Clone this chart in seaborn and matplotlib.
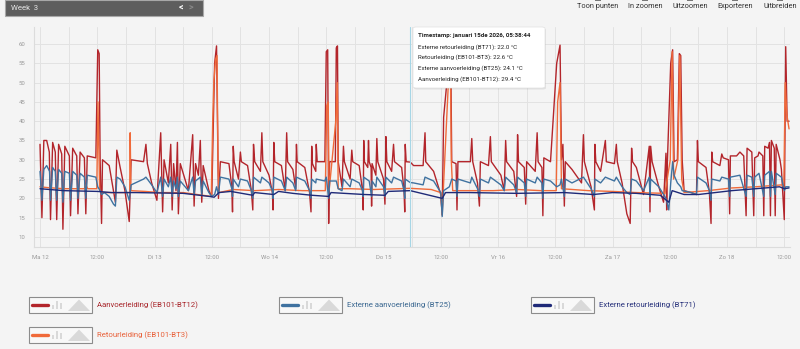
import matplotlib
matplotlib.use("Agg")
import matplotlib.pyplot as plt
import seaborn as sns
import pandas as pd
from matplotlib.patches import Rectangle, FancyBboxPatch, Polygon
from matplotlib.lines import Line2D

# ---------------- data (hours since Ma 12 00:00, °C) ----------------
bt12_t = [0.0, 0.4, 0.8, 1.4, 1.95, 2.2, 2.65, 3.2, 3.5, 3.9, 4.55, 4.8, 5.2, 6.15, 6.4, 6.85, 7.7, 7.95,
          8.4, 9.3, 9.6, 9.9, 11.7, 12.1, 12.4, 12.6, 12.9, 13.1, 14.5, 15.4, 15.8, 16.1, 16.8, 17.8, 18.7,
          19.1, 21.7, 22.2, 22.5, 23.4, 24.5, 25.3, 25.7, 26.0, 26.9, 27.4, 27.7, 28.0, 28.5, 28.8, 29.0,
          29.4, 31.1, 32.0, 32.3, 32.6, 33.2, 33.6, 33.9, 34.2, 35.4, 36.0, 36.6, 37.0, 37.4, 37.8, 39.6,
          40.2, 40.35, 40.5, 40.7, 41.6, 42.0, 42.2, 43.5, 44.3, 44.6, 44.75, 45.0, 46.2, 46.5, 46.7, 48.0,
          48.7, 48.85, 49.0, 49.2, 50.6, 51.4, 51.7, 51.9, 53.0, 53.6, 53.75, 53.9, 55.5, 56.5, 56.8, 56.95,
          57.1, 57.8, 57.9, 58.1, 59.7, 60.0, 60.3, 60.5, 60.7, 61.9, 62.1, 62.35, 62.5, 63.3, 63.6, 63.8,
          65.0, 65.35, 65.55, 66.9, 67.6, 67.75, 67.85, 68.0, 68.7, 68.85, 69.0, 69.4, 69.5, 69.6, 70.4,
          70.6, 70.8, 72.0, 72.3, 72.5, 72.7, 73.7, 74.1, 74.3, 75.8, 76.3, 76.45, 76.55, 76.75, 77.6, 78.3,
          80.3, 80.7, 80.85, 82.5, 83.5, 84.0, 84.3, 84.6, 85.2, 85.8, 86.1, 86.3, 87.2, 87.4, 87.6, 90.2,
          90.5, 90.7, 91.7, 92.1, 92.3, 94.0, 94.4, 94.6, 96.6, 97.3, 97.6, 97.8, 99.3, 99.9, 100.1, 100.3,
          101.5, 101.8, 102.0, 103.8, 104.2, 104.4, 105.2, 105.4, 105.6, 107.0, 108.3, 109.0, 109.3, 109.6,
          109.9, 110.1, 111.5, 113.5, 113.9, 114.1, 115.5, 116.2, 116.3, 116.5, 117.5, 118.5, 118.7, 120.4,
          120.8, 121.0, 122.0, 123.0, 123.7, 124.0, 124.2, 125.0, 126.5, 127.7, 127.85, 128.0, 128.3,
          129.7, 130.7, 131.2, 131.35, 131.5, 132.2, 132.6, 132.9, 133.6, 134.0, 134.3, 134.6, 135.0,
          136.5, 137.6, 137.8, 138.0, 139.6, 140.3, 140.65, 140.8, 141.0, 142.5, 142.9, 143.2, 144.3,
          144.55, 144.7, 146.0, 146.7, 147.5, 148.0, 148.2, 149.2, 149.6, 149.8, 150.5, 150.7, 151.5,
          151.7, 151.9, 152.6, 152.9, 153.1, 153.3, 153.9, 154.1, 154.3, 155.1, 155.4, 156.0, 156.3,
          156.6, 157.0]
bt12_v = [34, 15, 35, 35, 32, 14.5, 34.5, 32, 14.5, 34, 31.5, 12, 33.5, 31, 15.5, 33, 31, 16,
          32, 30.5, 16, 31, 30.5, 58.5, 57.5, 30, 13.5, 30, 28.5, 22, 19, 32.5, 28, 22, 14,
          30, 29.5, 34, 29, 24, 19.5, 37, 16.5, 30, 24, 34, 17, 29, 22, 34.5, 16,
          29, 22, 36.5, 18, 29, 26, 35, 19, 28.5, 22, 20.5, 55, 59.5, 20, 29.5, 29,
          23, 16.5, 33.5, 29.5, 25, 32, 29.5, 28.5, 22, 17, 34, 29.5, 27, 37, 29.5, 26,
          21.5, 17, 34.5, 29.5, 28.5, 22, 37, 29.5, 27.5, 22.5, 34, 29.5, 28, 21.5, 16.5, 33.5,
          29, 27, 34, 29.5, 29.5, 58, 58.5, 13.5, 29.5, 29.5, 59, 59.5, 29.5, 23, 33.5, 29.5,
          25, 32.5, 29.5, 28.5, 22, 17, 35, 29.5, 28, 35, 29.5, 28, 18, 29, 26,
          35.5, 29.5, 25, 18.5, 36, 29.5, 27, 34, 29.5, 28, 22, 16.5, 34, 29.5, 29.4, 28.5,
          28.5, 37, 29.5, 27, 23, 21, 15.7, 41, 49, 57, 56, 29.5, 29, 17, 29.5, 29.5,
          35.5, 29.5, 24, 18, 29.5, 28.5, 36, 29.5, 26, 22, 35, 29.5, 27, 20.5, 36.5, 29.5,
          28, 18.5, 29.5, 27, 37, 29.5, 28, 15.5, 30.5, 29.5, 55, 59.7, 30, 34,
          18, 29.5, 27.5, 24, 36.5, 29.5, 23, 17, 34, 29.5, 27, 35, 29.5, 29,
          34, 29.5, 24, 16, 13.5, 33, 29.5, 28, 21, 33.5, 16.5, 33.5, 29.5,
          23, 19, 31.7, 17, 29.5, 55, 58.5, 29.5, 30, 57.5, 57, 30, 22,
          21.5, 21, 35, 29.5, 28, 21.5, 13.5, 32, 29.5, 28.5, 31.5, 30.5, 30,
          16, 31, 31, 32, 31, 15.5, 33, 32, 15.5, 30.5, 31, 32, 31,
          15.5, 33.5, 33, 34.5, 15.5, 35, 33, 15.5, 34, 30, 27.5, 14.5, 59.3,
          40, 40]

bt25_t = [0.0, 0.4, 0.8, 1.4, 2.0, 2.2, 2.65, 3.2, 3.5, 3.9, 4.55, 4.8, 5.2, 6.15, 6.4, 6.85, 7.7, 7.95,
          8.4, 9.3, 9.6, 9.9, 11.7, 12.1, 12.6, 12.9, 13.5, 14.5, 15.4, 15.8, 16.1, 16.8, 17.8, 18.7, 19.1,
          21.7, 22.2, 23.4, 24.5, 25.3, 25.7, 26.0, 26.9, 27.4, 27.7, 28.0, 28.5, 28.8, 29.0, 29.4, 31.1,
          32.0, 32.3, 32.6, 33.6, 33.9, 34.2, 35.4, 36.0, 36.6, 37.0, 37.4, 37.8, 39.6, 40.2, 40.35, 40.5,
          41.6, 42.0, 43.5, 44.3, 44.6, 44.75, 46.2, 46.5, 48.0, 48.7, 48.85, 49.0, 50.6, 51.4, 51.7, 53.0,
          53.6, 53.75, 55.5, 56.5, 56.8, 56.95, 57.8, 57.9, 59.7, 60.0, 60.5, 60.7, 62.1, 62.5, 63.3, 63.6,
          65.0, 65.35, 66.9, 67.6, 67.75, 67.85, 69.0, 69.5, 69.6, 70.4, 70.6, 72.0, 72.3, 72.5, 73.7, 74.1,
          75.8, 76.3, 76.45, 76.55, 77.6, 78.3, 80.3, 80.7, 82.5, 83.5, 84.0, 84.3, 84.6, 85.8, 86.3, 87.2,
          87.4, 87.6, 90.2, 90.5, 91.7, 92.1, 92.3, 94.0, 94.4, 96.6, 97.3, 97.6, 99.3, 99.9, 100.1, 101.5,
          101.8, 102.0, 103.8, 104.2, 105.2, 105.4, 105.6, 107.0, 108.3, 109.0, 109.3, 109.9, 110.1, 111.5,
          113.9, 115.5, 116.2, 116.3, 117.5, 118.5, 120.4, 120.8, 122.0, 123.0, 123.7, 124.0, 125.0, 126.5,
          127.7, 127.85, 128.0, 129.7, 130.7, 131.2, 131.8, 132.2, 132.6, 132.9, 133.6, 134.3, 134.6, 136.5,
          137.6, 137.8, 139.6, 140.3, 140.65, 140.8, 142.5, 142.9, 144.3, 144.55, 144.7, 146.7, 148.0, 148.2,
          149.2, 149.6, 149.8, 150.7, 151.7, 151.9, 152.9, 153.1, 153.3, 154.1, 154.3, 155.4, 156.0, 156.3,
          157.0]
bt25_v = [27, 19.5, 27.5, 28.5, 27, 19.5, 28, 27, 19.5, 27.5, 26.5, 19, 27, 26.5, 19.5, 27, 26, 20,
          26.5, 25.5, 20, 26, 25.5, 23, 22, 21, 21.5, 20.5, 18.5, 18, 25.5, 25, 23, 19.5, 23.5,
          25, 25.5, 23.5, 21.5, 25.5, 20.5, 25, 23, 25.5, 20.5, 24.5, 22.5, 25.5, 20.5, 24.5, 22,
          25.5, 21, 24.5, 25.5, 21, 24.5, 21.5, 20.5, 21, 23, 21, 25.5, 25, 22.5, 20.5, 25,
          23, 25, 24.5, 22, 20, 25.5, 24, 25.5, 24, 22, 20, 25.5, 24.5, 22, 25.5, 24,
          22, 25.5, 24.5, 22, 20, 25, 24, 25, 24.5, 25.5, 20, 24.5, 24.5, 22.5, 22, 25,
          23, 25, 24, 22, 20.5, 25.5, 24.5, 20.5, 24.5, 23, 25.5, 23, 20.5, 25.5, 24, 25.5,
          24.5, 22, 20, 25, 24.1, 24, 23.5, 25.5, 24.5, 22.5, 21.5, 15.3, 22, 23, 25, 24.5,
          20.5, 25, 24, 25.5, 22.5, 20.5, 25, 24, 25.5, 23.5, 22, 25.5, 23.5, 21.5, 25.5, 24,
          20.5, 25, 24, 25.5, 24, 20, 25, 24.5, 23, 23.5, 25, 20.5, 25, 24,
          25.5, 22.5, 20.5, 25, 24, 25.5, 24.5, 25.5, 23, 21.5, 21, 25, 24.5, 22,
          25.5, 20.5, 25, 23, 21, 20, 17, 24, 29.5, 26, 24, 23, 22, 21.5,
          21, 25.5, 24, 22, 19.5, 25, 24.5, 25.5, 25, 20.5, 25.5, 26, 20.5, 26,
          25.5, 20.5, 25.5, 26.5, 20.5, 26, 27, 20.5, 27, 21, 26.5, 25.5, 22, 23,
          23]

bt3_t = [0.0, 1.5, 5.0, 9.3, 9.6, 10.0, 11.9, 12.15, 12.5, 13.0, 18.8, 18.9, 19.05, 22.0, 25.0, 30.0,
         35.9, 36.2, 36.45, 36.8, 37.1, 37.3, 37.5, 40.5, 45.0, 50.0, 55.0, 59.8, 60.1, 60.4, 60.6, 62.0,
         62.3, 62.5, 65.0, 70.0, 77.6, 82.0, 84.0, 84.3, 84.6, 85.6, 86.0, 86.2, 86.5, 90.0, 95.0, 100.0,
         105.0, 108.2, 108.5, 109.0, 109.3, 115.0, 120.0, 125.0, 131.0, 132.1, 132.5, 132.8, 133.7,
         134.1, 134.5, 135.0, 140.0, 145.0, 150.0, 155.5, 155.9, 156.2, 156.5, 157.0]
bt3_v = [23, 22.8, 22.5, 22.5, 23.5, 22.5, 22.5, 45, 22, 21.5, 21.5, 37, 22, 21.8, 21.5, 21.5,
         20.5, 40, 50.5, 56, 57, 30, 21.5, 22.3, 22, 22.3, 22, 22, 44, 45, 22, 40,
         50, 22.5, 22.5, 22.3, 22.6, 22.3, 21.5, 15.7, 24, 50, 58, 30, 22, 22, 22, 22.3,
         22, 22, 45, 50, 22.5, 22, 21.8, 21.5, 21.3, 30, 58, 25, 30,
         57, 25, 21.5, 22, 22.7, 23, 23.5, 23, 50, 42, 38]

bt71_t = [0.0, 5.0, 12.0, 15.0, 20.0, 30.0, 35.5, 36.5, 37.5, 40.0, 44.6, 45.0, 49.0, 50.0, 53.0,
          57.0, 60.5, 61.0, 68.0, 72.3, 73.0, 77.6, 84.3, 85.0, 90.0, 100.0, 110.0, 116.0, 120.0,
          125.0, 130.0, 131.8, 132.5, 135.0, 138.0, 145.0, 150.0, 155.0, 156.0, 157.0]
bt71_v = [22.5, 22, 21.8, 21.5, 21.5, 21.3, 20.5, 20.3, 21.5, 21.8, 20.8, 21.5, 21, 21.8, 21.3,
          20.8, 20.5, 21.5, 21, 20.8, 21.8, 22.0, 20, 21.5, 21.5, 21.3, 21.5, 21, 21.5,
          21.3, 20.8, 19, 22, 21, 21, 22, 22.5, 23, 22.5, 22.7]

x_tick_hours = [0, 12, 24, 36, 48, 60, 72, 84, 96, 108, 120, 132, 144, 156]
x_tick_labels = ["Ma 12", "12:00", "Di 13", "12:00", "Wo 14", "12:00", "Do 15", "12:00",
                 "Vr 16", "12:00", "Za 17", "12:00", "Zo 18", "12:00"]
y_ticks = [10, 15, 20, 25, 30, 35, 40, 45, 50, 55, 60]

series_names = ["Aanvoerleiding (EB101-BT12)", "Externe aanvoerleiding (BT25)",
                "Externe retourleiding (BT71)", "Retourleiding (EB101-BT3)"]
cursor_hour = 77.6
tooltip_lines = ["Timestamp: januari 15de 2026, 05:38:44",
                 "Externe retourleiding (BT71): 22.0 °C",
                 "Retourleiding (EB101-BT3): 22.6 °C",
                 "Externe aanvoerleiding (BT25): 24.1 °C",
                 "Aanvoerleiding (EB101-BT12): 29.4 °C"]
toolbar = ["Toon punten", "In zoomen", "Uitzoomen", "Exporteren", "Uitbreiden"]

# ---------------- styling ----------------
BG = "#f4f4f4"
C_RED = "#b3252b"
C_BLUE = "#3f72a0"
C_NAVY = "#1f2a78"
C_ORANGE = "#f06a3a"
TXT_RED = "#a8262b"
TXT_BLUE = "#3a6790"
TXT_NAVY = "#26307a"
TXT_ORANGE = "#e8613a"

sns.set_theme(style="whitegrid")
plt.rcParams['font.family'] = ['Roboto', 'DejaVu Sans']

W, H = 800, 349
fig = plt.figure(figsize=(W / 100, H / 100), dpi=100, facecolor=BG)


def fx(x):
    return x / W


def fy(y):
    return 1 - y / H


ax = fig.add_axes([fx(34), fy(247), (790 - 34) / W, (247 - 27) / H])
ax.set_facecolor(BG)

lw = 1.0
sns.lineplot(x=bt12_t, y=bt12_v, ax=ax, color=C_RED, lw=lw, estimator=None, sort=False, zorder=3)
sns.lineplot(x=bt3_t, y=bt3_v, ax=ax, color=C_ORANGE, lw=lw, estimator=None, sort=False, zorder=3.5)
sns.lineplot(x=bt25_t, y=bt25_v, ax=ax, color=C_BLUE, lw=lw, estimator=None, sort=False, zorder=4)
sns.lineplot(x=bt71_t, y=bt71_v, ax=ax, color=C_NAVY, lw=lw, estimator=None, sort=False, zorder=4.5)

ax.set_xticks(x_tick_hours)
ax.set_xticklabels(x_tick_labels)
ax.set_xticks([h + 6 for h in x_tick_hours[:-1]], minor=True)
ax.set_yticks(y_ticks)
ax.set_yticklabels([str(v) for v in y_ticks])
ax.set_xlim(-1.26, 157.2)
ax.set_ylim(7.4, 64.4)
ax.set_xlabel("")
ax.set_ylabel("")
ax.grid(True, which="major", color="#e2e2e2", lw=0.7)
ax.grid(True, which="minor", axis="x", color="#e2e2e2", lw=0.7)
ax.tick_params(axis="both", which="both", length=0, labelsize=4.3, labelcolor="#9a9a9a")
ax.tick_params(axis="x", pad=6)
ax.tick_params(axis="y", pad=6)
for s in ["top", "right"]:
    ax.spines[s].set_visible(False)
for s in ["left", "bottom"]:
    ax.spines[s].set_color("#dcdcdc")
    ax.spines[s].set_linewidth(0.8)

ax.axvline(cursor_hour, color="#a6d6e6", lw=0.8, zorder=6)

# ---------------- header ----------------
fig.add_artist(Rectangle((fx(5), fy(16)), 198 / W, 16 / H, transform=fig.transFigure,
                         facecolor="#5e5e5e", edgecolor="#a8a8a8", lw=0.8))
fig.text(fx(11), fy(7.5), "Week  3", color="#e6e6e6", fontsize=5.6, va="center", ha="left")
fig.text(fx(181), fy(7.5), "<", color="#ffffff", fontsize=6.5, va="center", ha="center", weight="bold")
fig.text(fx(191), fy(7.5), ">", color="#8a8a8a", fontsize=6.5, va="center", ha="center", weight="bold")

tool_x = [598, 645, 690, 735, 780]
for tx, lab in zip(tool_x, toolbar):
    fig.text(fx(tx), fy(7), lab, color="#333333", fontsize=5.3, va="center", ha="center")
    fig.add_artist(Rectangle((fx(tx - 3), fy(1.2)), 6 / W, 1.2 / H, transform=fig.transFigure,
                             facecolor="#777777", edgecolor="none"))

# ---------------- tooltip ----------------
fig.add_artist(FancyBboxPatch((fx(414), fy(89.5)), 132 / W, 61 / H, transform=fig.transFigure,
                              boxstyle="round,pad=0,rounding_size=0.004",
                              facecolor="#000000", alpha=0.08, edgecolor="none", zorder=10))
fig.add_artist(FancyBboxPatch((fx(413), fy(88)), 132 / W, 61 / H, transform=fig.transFigure,
                              boxstyle="round,pad=0,rounding_size=0.004",
                              facecolor="#ffffff", edgecolor="#e0e0e0", lw=0.5, zorder=11))
line_y = [36, 46.7, 57.4, 68.3, 79.3]
for i, (ly, s) in enumerate(zip(line_y, tooltip_lines)):
    fig.text(fx(418), fy(ly), s, fontsize=4.4, color="#222222", va="center", ha="left",
             weight="bold" if i == 0 else "normal", zorder=12)

# ---------------- legend ----------------
legend_items = [
    (series_names[0], C_RED, TXT_RED, 29, 305),
    (series_names[1], C_BLUE, TXT_BLUE, 279, 305),
    (series_names[2], C_NAVY, TXT_NAVY, 531, 305),
    (series_names[3], C_ORANGE, TXT_ORANGE, 29, 335),
]
for name, lc, tc, bx, by in legend_items:
    fig.add_artist(Rectangle((fx(bx), fy(by + 8)), 63 / W, 16 / H, transform=fig.transFigure,
                             facecolor="#f8f8f8", edgecolor="#8c8c8c", lw=0.8))
    fig.add_artist(Line2D([fx(bx + 3), fx(bx + 19)], [fy(by), fy(by)], transform=fig.transFigure,
                          color=lc, lw=2.4, solid_capstyle="round"))
    for dx, hgt in [(23, 4), (27, 7.5), (31, 5.5)]:
        fig.add_artist(Rectangle((fx(bx + dx), fy(by + 3.5)), 1.6 / W, hgt / H,
                                 transform=fig.transFigure, facecolor="#d9d9d9", edgecolor="none"))
    fig.add_artist(Polygon([(fx(bx + 39), fy(by + 6)), (fx(bx + 50), fy(by - 5.5)),
                            (fx(bx + 61), fy(by + 6))], closed=True, transform=fig.transFigure,
                           facecolor="#d9d9d9", edgecolor="none"))
    fig.text(fx(bx + 68), fy(by), name, color=tc, fontsize=5.6, va="center", ha="left")

fig.savefig("out.png", dpi=100, facecolor=BG)
